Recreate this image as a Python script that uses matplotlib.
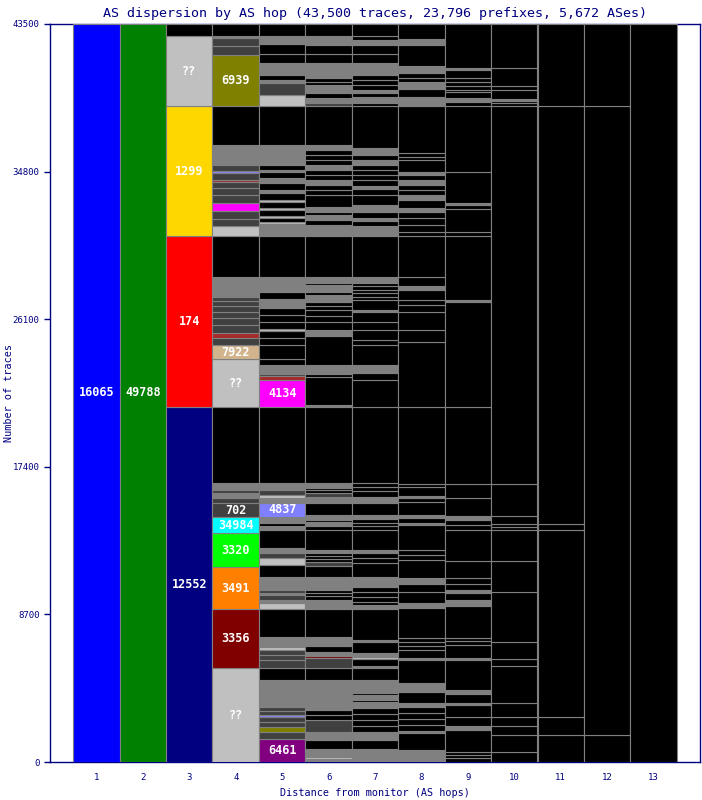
import matplotlib
matplotlib.use('Agg')
import matplotlib.pyplot as plt

NAVY = '#000080'

# colour of each kind of segment
colors = {
    'k': '#000000', 'g': '#808080', 'd': '#404040', 's': '#c0c0c0',
    'ol': '#808000', 'lb': '#8080ff', 'mg': '#ff00ff', 'br': '#a52a2a', 'mr': '#800000',
    '16065': '#0000ff', '49788': '#008000', '12552': '#000080', '174': '#ff0000',
    '1299': '#ffd700', '??': '#c0c0c0', '6939': '#808000', '7922': '#d2b48c',
    '702': '#404040', '34984': '#00ffff', '3320': '#00ff00', '3491': '#ff8000',
    '3356': '#800000', '4134': '#ff00ff', '4837': '#8080ff', '6461': '#800080',
}
# kinds that get a text label
labelled = ['16065', '49788', '12552', '174', '1299', '??', '6939', '7922', '702',
            '34984', '3320', '3491', '3356', '4134', '4837', '6461']

hops = list(range(1, 14))

# (traces, kind) per hop, listed from the bottom up
hop1 = [(43500, '16065')]
hop2 = [(43500, '49788')]
hop3 = [(20920, '12552'), (10080, '174'), (7660, '1299'), (4130, '??'), (710, 'k')]
hop4 = [(5540, '??'), (3477, '3356'), (2475, '3491'), (2004, '3320'), (943, '34984'),
        (825, '702'), (295, 'd'), (295, 'g'), (177, 'd'), (413, 'g'), (4479, 'k'),
        (2829, '??'), (825, '7922'), (413, 'd'), (295, 'br'), (472, 'd'), (413, 'd'),
        (354, 'd'), (354, 'd'), (295, 'd'), (236, 'd'), (1179, 'g'), (2417, 'k'),
        (589, 's'), (413, 'd'), (471, 'd'), (472, 'mg'), (472, 'd'), (413, 'd'),
        (354, 'd'), (118, 'br'), (413, 'd'), (118, 'lb'), (354, 'd'), (1179, 'g'), (2299, 'k'),
        (3006, '6939'), (530, 'd'), (472, 'd'), (118, 'g'), (707, 'k')]
hop5 = [(1356, '6461'), (413, 'd'), (295, 'ol'), (295, 'd'), (295, 'd'), (118, 'lb'),
        (236, 'd'), (236, 'd'), (1591, 'g'), (707, 'k'), (472, 'd'), (295, 'd'), (295, 'd'),
        (177, 's'), (589, 'g'), (1650, 'k'), (354, 's'), (177, 'g'), (295, 'd'), (118, 'g'),
        (177, 'd'), (766, 'g'), (707, 'k'), (413, 's'), (295, 'd'), (295, 'g'), (1061, 'k'),
        (236, 'g'), (177, 'k'), (354, 'g'), (825, '4837'), (295, 'g'), (177, 's'), (295, 'd'),
        (413, 'g'), (4479, 'k'),
        (1591, '4134'), (236, 'br'), (118, 'd'), (530, 'g'), (354, 'k'), (825, 'k'), (413, 'k'),
        (413, 'k'), (118, 's'), (413, 'k'), (413, 'k'), (413, 'k'), (530, 'g'), (413, 'k'),
        (884, 'g'), (2417, 'k'),
        (707, 'g'), (118, 's'), (236, 'k'), (118, 's'), (354, 'k'), (118, 's'), (354, 'k'),
        (118, 's'), (413, 'k'), (177, 'g'), (413, 'k'), (295, 'g'), (354, 'k'), (118, 'g'),
        (295, 'k'), (1179, 'g'), (2299, 'k'),
        (648, 's'), (707, 'd'), (177, 'g'), (295, 'k'), (707, 'g'), (530, 'k'), (589, 'k'),
        (472, 'g'), (707, 'k')]
hop6 = [(177, 'g'), (118, 's'), (472, 'g'), (530, 'k'), (472, 'g'), (707, 'd'), (295, 'k'),
        (295, 'k'), (1768, 'g'), (707, 'k'), (589, 'd'), (118, 'mr'), (236, 'g'), (354, 'k'),
        (530, 'g'), (1650, 'k'), (530, 'g'), (236, 'k'), (177, 'k'), (177, 'k'), (766, 'g'),
        (648, 'k'), (236, 'd'), (177, 'k'), (177, 'k'), (177, 'k'), (177, 'g'), (1179, 'k'),
        (236, 'k'), (236, 'g'), (118, 'k'), (295, 'g'), (707, 'k'), (354, 'g'), (236, 'd'),
        (177, 'k'), (118, 'k'), (295, 'g'), (4479, 'k'),
        (118, 'g'), (1650, 'k'), (177, 'k'), (530, 'g'), (1709, 'k'), (354, 'g'), (472, 'k'),
        (354, 'k'), (354, 'k'), (236, 'k'), (236, 'k'), (413, 'g'), (177, 'k'), (413, 'g'),
        (118, 'k'), (354, 'g'), (2417, 'k'),
        (648, 'g'), (295, 'k'), (295, 'g'), (177, 'k'), (295, 'g'), (707, 'k'), (295, 'k'),
        (295, 'k'), (295, 'g'), (295, 'k'), (295, 'k'), (295, 'g'), (295, 'k'), (295, 'k'),
        (295, 'k'), (295, 'g'), (2299, 'k'),
        (177, 'd'), (295, 'g'), (295, 'k'), (472, 'g'), (177, 'k'), (236, 'k'), (884, 'g'),
        (530, 'k'), (530, 'k'), (530, 'g'), (707, 'k')]
hop7 = [(766, 'g'), (530, 'k'), (472, 'g'), (354, 'k'), (354, 'k'), (354, 'k'), (354, 'k'),
        (354, 'g'), (118, 'k'), (295, 'g'), (118, 'k'), (766, 'g'), (707, 'k'), (118, 'g'),
        (413, 'k'), (118, 's'), (236, 'g'), (648, 'k'), (118, 'g'), (1827, 'k'), (236, 'g'),
        (177, 'k'), (295, 'k'), (295, 'k'), (295, 'k'), (589, 'g'), (825, 'k'), (295, 'k'),
        (295, 'k'), (177, 'g'), (1179, 'k'), (236, 'k'), (177, 'k'), (236, 'k'), (236, 'g'),
        (707, 'k'), (354, 'g'), (354, 'k'), (236, 'k'), (236, 'k'), (4479, 'k'),
        (1591, 'k'), (413, 'k'), (472, 'g'), (1179, 'k'), (295, 'k'), (589, 'k'), (472, 'k'),
        (589, 'k'), (118, 'g'), (589, 'k'), (177, 'k'), (236, 'k'), (177, 'k'), (236, 'k'),
        (177, 'k'), (354, 'g'), (2417, 'k'),
        (589, 'g'), (295, 'k'), (177, 'g'), (354, 'k'), (413, 'g'), (589, 'k'), (354, 'k'),
        (177, 'g'), (354, 'k'), (295, 'k'), (295, 'k'), (295, 'k'), (295, 'g'), (295, 'k'),
        (413, 'g'), (2475, 'k'),
        (177, 'k'), (354, 'g'), (236, 'k'), (177, 'g'), (295, 'k'), (295, 'k'), (295, 'k'),
        (707, 'g'), (530, 'k'), (530, 'k'), (295, 'g'), (236, 'k'), (707, 'k')]
hop8 = [(707, 'g'), (1002, 'k'), (118, 'g'), (354, 'k'), (354, 'k'), (354, 'k'), (354, 'k'),
        (236, 'g'), (648, 'k'), (530, 'g'), (1356, 'k'), (118, 'g'), (472, 'k'), (236, 'k'),
        (236, 'k'), (236, 'k'), (1768, 'k'), (295, 'g'), (648, 'k'), (472, 'k'), (354, 'g'),
        (1061, 'k'), (295, 'k'), (295, 'k'), (1474, 'k'), (118, 'g'), (295, 'k'), (177, 'g'),
        (766, 'k'), (236, 'k'), (118, 'g'), (530, 'k'), (177, 'k'), (4538, 'k'),
        (3831, 'k'), (707, 'k'), (1061, 'k'), (413, 'k'), (295, 'k'), (589, 'k'), (236, 'g'),
        (530, 'k'), (2417, 'k'),
        (236, 'k'), (413, 'k'), (413, 'k'), (354, 'k'), (236, 'g'), (472, 'k'), (295, 'g'),
        (295, 'k'), (295, 'k'), (295, 'g'), (295, 'k'), (177, 'g'), (707, 'k'), (177, 'k'),
        (236, 'k'), (2770, 'k'),
        (530, 'g'), (472, 'k'), (413, 'g'), (236, 'k'), (295, 'k'), (413, 'g'), (1238, 'k'),
        (354, 'g'), (884, 'k')]
hop9 = [(236, 'k'), (177, 'k'), (177, 'k'), (1297, 'k'), (236, 'g'), (530, 'k'), (707, 'k'),
        (118, 'g'), (530, 'k'), (236, 'g'), (1768, 'k'), (118, 'g'), (766, 'k'), (236, 'k'),
        (177, 'k'), (1886, 'k'), (354, 'g'), (413, 'k'), (177, 'g'), (354, 'k'), (354, 'k'),
        (1002, 'k'), (1827, 'k'), (295, 'k'), (295, 'k'), (236, 'g'), (1061, 'k'), (825, 'k'),
        (4538, 'k'), (6189, 'k'), (118, 'g'), (3772, 'k'), (236, 'k'), (1356, 'k'), (236, 'k'),
        (118, 'g'), (1827, 'k'), (3890, 'k'), (236, 'k'), (236, 'g'), (354, 'k'), (118, 'k'),
        (236, 'k'), (236, 'k'), (236, 'k'), (472, 'k'), (118, 'g'), (2593, 'k')]
hop10 = [(589, 'k'), (1002, 'k'), (530, 'k'), (530, 'k'), (825, 'k'), (2181, 'k'), (413, 'k'),
         (1002, 'k'), (2947, 'k'), (1827, 'k'), (1827, 'k'), (177, 'k'), (177, 'k'), (472, 'k'),
         (1886, 'k'), (22279, 'k'), (177, 'k'), (118, 'k'), (118, 'g'), (530, 'k'), (236, 'k'),
         (1061, 'k'), (2593, 'k')]
hop11 = [(1591, 'k'), (1061, 'k'), (11022, 'k'), (354, 'k'), (24637, 'k'), (4833, 'k')]
hop12 = [(1591, 'k'), (37073, 'k'), (4833, 'k')]
hop13 = [(43500, 'k')]

columns = [hop1, hop2, hop3, hop4, hop5, hop6, hop7, hop8, hop9, hop10, hop11, hop12, hop13]
yticks = [0, 8700, 17400, 26100, 34800, 43500]

fig = plt.figure(figsize=(7.02, 8.0), dpi=100)
ax = fig.add_axes([50 / 702, 38 / 800, 650 / 702, 738 / 800])

for hop, segs in zip(hops, columns):
    bottom = 0
    for h, kind in segs:
        ax.bar(hop, h, bottom=bottom, width=1.0, color=colors[kind],
               edgecolor='#808080', linewidth=0.8, zorder=3)
        if kind in labelled and h > 700:
            ax.text(hop, bottom + h / 2, kind, ha='center', va='center', color='white',
                    fontsize=8.5, fontweight='bold', family='DejaVu Sans Mono', zorder=4)
        bottom += h

ax.set_xlim(0, 14)
ax.set_ylim(0, 43500)
ax.set_xticks(hops)
ax.set_xticklabels([str(h) for h in hops])
ax.set_yticks(yticks)
ax.set_yticklabels([str(t) for t in yticks])
ax.tick_params(axis='x', length=0, pad=8, labelsize=6.5, labelcolor=NAVY)
ax.tick_params(axis='y', length=4, width=1, color=NAVY, labelsize=6.5, labelcolor=NAVY)
for lab in ax.get_xticklabels() + ax.get_yticklabels():
    lab.set_family('DejaVu Sans Mono')
for sp in ax.spines.values():
    sp.set_color(NAVY)
    sp.set_linewidth(1)

ax.set_title('AS dispersion by AS hop (43,500 traces, 23,796 prefixes, 5,672 ASes)',
             color=NAVY, fontsize=9.6, family='DejaVu Sans Mono', pad=5)
fig.text(375 / 702, 1 - 793 / 800, 'Distance from monitor (AS hops)', color=NAVY,
         fontsize=7.3, family='DejaVu Sans Mono', ha='center', va='center')
fig.text(9 / 702, 1 - 393 / 800, 'Number of traces', color=NAVY, fontsize=7.3,
         family='DejaVu Sans Mono', ha='center', va='center', rotation=90)

fig.savefig('out.png', dpi=100)
